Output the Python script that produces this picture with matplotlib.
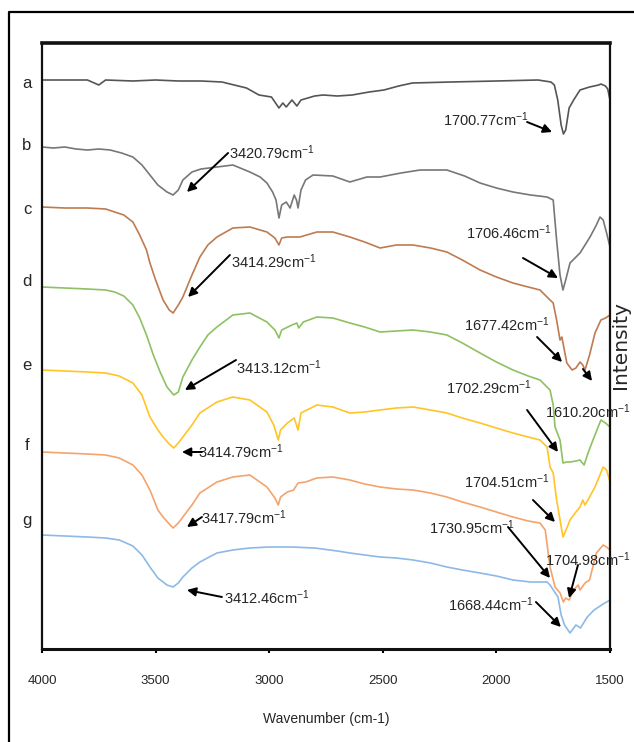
import matplotlib
matplotlib.use("Agg")
import matplotlib.pyplot as plt
from matplotlib.lines import Line2D
import matplotlib.transforms as mtransforms

plt.rcParams['font.family'] = ['Liberation Sans', 'DejaVu Sans']
plt.rcParams['mathtext.fontset'] = 'custom'
plt.rcParams['mathtext.rm'] = 'Liberation Sans'
plt.rcParams['mathtext.it'] = 'Liberation Sans:italic'

# FTIR spectra (wavenumber in cm-1, stacked intensity in arbitrary units)
wn_a = [4000, 3900, 3800, 3750, 3720, 3600, 3500, 3400, 3300, 3208, 3100, 3045, 2990, 2957, 2940,
        2925, 2900, 2878, 2860, 2800, 2763, 2700, 2635, 2560, 2495, 2430, 2370, 2200, 2000, 1817,
        1760, 1745, 1730, 1715, 1705, 1695, 1680, 1660, 1632, 1590, 1550, 1540, 1520, 1510, 1500]
px_a = [80, 80, 80, 85, 80, 81, 80, 81, 81, 82, 88, 95, 97, 108, 103,
        107, 100, 106, 100, 96, 95, 96, 95, 92, 90, 86, 83, 82, 81, 80,
        82, 85, 100, 125, 134, 130, 108, 100, 90, 87, 85, 84, 86, 89, 100]

wn_b = [4000, 3950, 3900, 3850, 3800, 3750, 3700, 3650, 3600, 3560, 3525, 3490, 3450, 3423, 3400,
        3380, 3340, 3300, 3230, 3160, 3085, 3040, 3010, 2985, 2970, 2957, 2945, 2925, 2908, 2890,
        2880, 2873, 2860, 2840, 2807, 2720, 2645, 2570, 2512, 2420, 2336, 2218, 2140, 2072, 2000,
        1927, 1850, 1777, 1750, 1735, 1720, 1707, 1695, 1676, 1632, 1588, 1560, 1544, 1530, 1515, 1500]
px_b = [147, 148, 147, 149, 150, 149, 150, 153, 157, 165, 175, 185, 192, 195, 190,
        180, 172, 169, 167, 165, 172, 177, 183, 192, 200, 218, 205, 202, 208, 195,
        200, 208, 190, 180, 175, 176, 182, 177, 177, 173, 170, 170, 176, 183, 188,
        192, 195, 197, 200, 240, 275, 290, 280, 263, 253, 237, 225, 217, 220, 233, 247]

wn_c = [4000, 3900, 3800, 3720, 3680, 3640, 3600, 3570, 3540, 3525, 3500, 3467, 3440, 3423, 3400,
        3380, 3340, 3305, 3270, 3230, 3160, 3085, 3010, 2975, 2957, 2945, 2920, 2865, 2790, 2720,
        2645, 2580, 2512, 2440, 2367, 2290, 2218, 2150, 2072, 2000, 1927, 1860, 1808, 1764, 1750,
        1735, 1720, 1712, 1690, 1667, 1650, 1632, 1620, 1610, 1590, 1566, 1540, 1520, 1500]
px_c = [207, 208, 208, 209, 212, 215, 222, 235, 250, 263, 280, 300, 310, 313, 305,
        297, 275, 257, 245, 237, 228, 227, 232, 238, 245, 238, 237, 237, 232, 232,
        237, 242, 248, 245, 245, 248, 252, 260, 270, 277, 283, 287, 290, 300, 303,
        320, 340, 337, 363, 370, 368, 362, 365, 370, 355, 333, 320, 318, 315]

wn_d = [4000, 3900, 3800, 3720, 3680, 3640, 3600, 3570, 3540, 3510, 3480, 3450, 3420, 3400, 3380,
        3340, 3305, 3270, 3230, 3160, 3085, 3010, 2975, 2957, 2945, 2900, 2878, 2870, 2850, 2790,
        2720, 2645, 2580, 2512, 2440, 2367, 2290, 2218, 2150, 2072, 2000, 1927, 1860, 1808, 1764,
        1750, 1742, 1720, 1707, 1690, 1676, 1650, 1632, 1614, 1595, 1575, 1540, 1520, 1500]
px_d = [287, 288, 289, 290, 292, 296, 305, 318, 335, 355, 372, 387, 395, 392, 377,
        360, 347, 335, 327, 315, 313, 322, 330, 338, 330, 325, 323, 328, 322, 317,
        318, 323, 327, 332, 331, 330, 332, 335, 343, 353, 362, 370, 376, 380, 390,
        405, 427, 440, 463, 462, 462, 461, 460, 465, 452, 440, 420, 423, 427]

wn_e = [4000, 3900, 3800, 3720, 3660, 3600, 3560, 3525, 3490, 3467, 3440, 3420, 3400, 3380, 3340,
        3305, 3230, 3160, 3085, 3010, 2980, 2960, 2950, 2920, 2890, 2873, 2860, 2790, 2720, 2645,
        2580, 2512, 2440, 2367, 2290, 2218, 2150, 2072, 2000, 1927, 1860, 1808, 1777, 1764, 1750,
        1735, 1707, 1690, 1676, 1650, 1632, 1620, 1610, 1590, 1566, 1530, 1515, 1500]
px_e = [370, 371, 372, 373, 376, 383, 395, 417, 430, 437, 444, 448, 443, 437, 425,
        413, 402, 397, 400, 412, 425, 440, 430, 423, 418, 430, 413, 405, 407, 413,
        412, 410, 408, 407, 410, 413, 418, 423, 428, 433, 437, 440, 447, 467, 473,
        500, 537, 528, 520, 512, 507, 500, 505, 497, 487, 467, 470, 482]

wn_f = [4000, 3900, 3800, 3720, 3660, 3600, 3560, 3525, 3490, 3467, 3440, 3423, 3400, 3380, 3340,
        3305, 3230, 3160, 3085, 3010, 2975, 2960, 2950, 2920, 2893, 2873, 2840, 2790, 2720, 2645,
        2580, 2512, 2440, 2367, 2290, 2218, 2150, 2072, 2000, 1927, 1860, 1808, 1785, 1764, 1742,
        1720, 1705, 1695, 1680, 1660, 1640, 1632, 1610, 1590, 1560, 1530, 1515, 1500]
px_f = [452, 453, 454, 455, 458, 465, 475, 490, 510, 517, 524, 528, 523, 517, 505,
        493, 482, 477, 475, 487, 498, 505, 497, 492, 490, 483, 482, 478, 477, 480,
        484, 487, 489, 490, 493, 497, 502, 507, 512, 517, 521, 523, 530, 567, 587,
        593, 602, 598, 600, 590, 585, 590, 583, 580, 553, 545, 547, 550]

wn_g = [4000, 3900, 3800, 3720, 3660, 3600, 3560, 3525, 3490, 3450, 3423, 3400, 3380, 3340, 3305,
        3230, 3160, 3085, 3000, 2900, 2800, 2700, 2645, 2512, 2440, 2367, 2290, 2218, 2150, 2072,
        2000, 1927, 1850, 1777, 1764, 1729, 1715, 1700, 1676, 1650, 1630, 1600, 1570, 1530, 1500]
px_g = [535, 536, 537, 538, 540, 546, 555, 567, 578, 585, 587, 583, 577, 568, 562,
        553, 550, 548, 547, 547, 548, 551, 553, 557, 558, 560, 563, 567, 570, 573,
        576, 580, 582, 582, 585, 597, 615, 625, 633, 625, 628, 617, 610, 604, 600]

BASE = 649  # intensity scale origin
spectra = {
    'a': (wn_a, [BASE - p for p in px_a], '#555555'),
    'b': (wn_b, [BASE - p for p in px_b], '#777777'),
    'c': (wn_c, [BASE - p for p in px_c], '#BE7B50'),
    'd': (wn_d, [BASE - p for p in px_d], '#8DC163'),
    'e': (wn_e, [BASE - p for p in px_e], '#FFC425'),
    'f': (wn_f, [BASE - p for p in px_f], '#F4A36C'),
    'g': (wn_g, [BASE - p for p in px_g], '#8DB9E6'),
}
label_heights = {'a': 566, 'b': 504, 'c': 439, 'd': 367, 'e': 284, 'f': 204, 'g': 129}

# peak annotations: text, text centre, arrow tail, arrow head
peak_labels = ['1700.77', '3420.79', '1706.46', '3414.29', '1677.42', '1610.20', '3413.12',
               '1702.29', '3414.79', '1704.51', '3417.79', '1730.95', '1704.98', '1668.44', '3412.46']
label_pos = [(2046, 529), (2988, 496), (1945, 416), (2979, 387), (1953, 324), (1597, 237),
             (2957, 281), (2033, 261), (3124, 197), (1953, 167), (3111, 131), (2107, 121),
             (1597, 89), (2024, 44), (3010, 51)]
arrow_tail = [(1865, 527), (3181, 496), (1883, 391), (3173, 394), (1821, 312), (1619, 280),
              (3146, 289), (1865, 239), (3296, 197), (1839, 149), (3296, 132), (1949, 122),
              (1641, 84), (1826, 47), (3208, 52)]
arrow_head = [(1755, 517), (3362, 457), (1729, 371), (3357, 352), (1711, 287), (1579, 268),
              (3371, 259), (1729, 197), (3384, 197), (1742, 127), (3362, 122), (1764, 71),
              (1680, 51), (1716, 22), (3362, 59)]

x_ticks = [4000, 3500, 3000, 2500, 2000, 1500]
TEXT = '#262626'

W, H = 634, 742
fig = plt.figure(figsize=(W / 100, H / 100), dpi=100)
ax = fig.add_axes([42 / W, 1 - 649 / H, 568 / W, 606 / H])

for key, (wn, val, col) in spectra.items():
    ax.plot(wn, val, color=col, lw=1.2, solid_joinstyle='round')

ax.set_xlim(4000, 1500)
ax.set_ylim(0, 606)
ax.set_yticks([])
ax.set_xticks(x_ticks)
ax.set_xticklabels([str(t) for t in x_ticks], fontsize=9.5, color=TEXT)
ax.tick_params(axis='x', direction='out', length=3, width=1.5, pad=16)

for side, lw in (('top', 2.6), ('bottom', 2.2), ('left', 1.6), ('right', 1.6)):
    ax.spines[side].set_linewidth(lw)
    ax.spines[side].set_color('#111111')

ax.set_xlabel('Wavenumber (cm-1)', fontsize=10, color=TEXT, labelpad=18)

fig.text(620 / W, 1 - 345 / H, 'Intensity', rotation=90, ha='center', va='center',
         fontsize=14.5, color=TEXT, family=['DejaVu Sans'])

trans = mtransforms.blended_transform_factory(ax.transAxes, ax.transData)
for key, h in label_heights.items():
    ax.text(-0.0264, h, key, transform=trans, ha='center', va='center',
            fontsize=12, color=TEXT)

for txt, pos, tail, head in zip(peak_labels, label_pos, arrow_tail, arrow_head):
    ax.text(pos[0], pos[1], txt + r'cm$^{-1}$', ha='center', va='center',
            fontsize=10.5, color=TEXT, clip_on=False)
    ax.annotate('', xy=head, xytext=tail,
                arrowprops=dict(arrowstyle='-|>', color='black', lw=1.4,
                                mutation_scale=13, shrinkA=0, shrinkB=0),
                annotation_clip=False)

# outer frame
fig.add_artist(Line2D([9 / W, 9 / W, 1.0], [0.0, 1 - 12 / H, 1 - 12 / H],
                      color='black', lw=1.6, transform=fig.transFigure))

fig.savefig('out.png', dpi=100)
